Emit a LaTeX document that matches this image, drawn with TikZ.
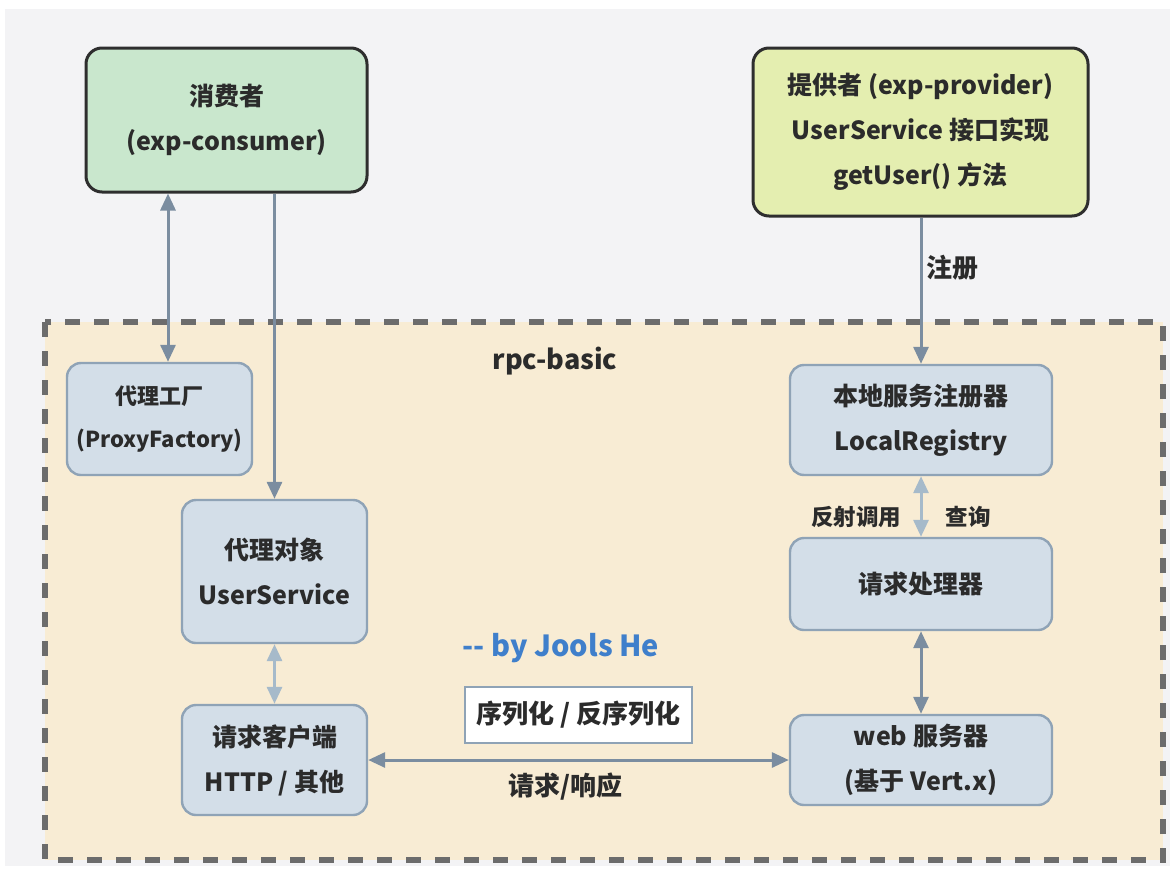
\documentclass[tikz,border=0pt]{standalone}
\usepackage{fontspec}
\setmainfont{Noto Sans CJK SC}
\usetikzlibrary{arrows.meta}
\definecolor{bggray}{HTML}{F3F3F5}
\definecolor{contfill}{HTML}{F8ECD4}
\definecolor{dashcol}{HTML}{6C6C6C}
\definecolor{boxfill}{HTML}{D3DEE8}
\definecolor{boxline}{HTML}{8FA3B6}
\definecolor{greenfill}{HTML}{C9E7CD}
\definecolor{yellowfill}{HTML}{E4EEB0}
\definecolor{topline}{HTML}{2E2E2E}
\definecolor{txt}{HTML}{2B2B2B}
\definecolor{arrdark}{HTML}{7B8DA0}
\definecolor{arrlight}{HTML}{A6BACA}
\definecolor{bluetxt}{HTML}{3F7FCB}
\tikzset{
  cbox/.style={draw=boxline, line width=2.4pt, fill=boxfill, rounded corners=14pt,
    inner sep=0pt, align=center, text=txt, font=\bfseries\fontsize{25}{45}\selectfont},
  topbox/.style={cbox, draw=topline, line width=3pt, rounded corners=16pt},
  tip/.tip={Triangle[length=17pt,width=15pt]},
  darrow/.style={draw=arrdark, line width=3pt, -{tip}},
  dbl/.style={draw=arrdark, line width=3pt, {tip}-{tip}},
  dbllight/.style={draw=arrlight, line width=3pt, {tip}-{tip}},
  lbl/.style={inner sep=0pt, text=txt, font=\bfseries\fontsize{22.5}{26}\selectfont}
}
\begin{document}
\begin{tikzpicture}[x=1pt,y=-1pt]
\useasboundingbox (0,0) rectangle (1174,878);
\fill[white] (0,0) rectangle (1174,878);
\fill[bggray] (5,9) rectangle (1170,866);
% container
\fill[contfill] (45,322) rectangle (1163,860);
\draw[dashcol, line width=6pt, dash pattern=on 15pt off 14pt] (45,322) rectangle (1163,860);
\node[lbl, font=\bfseries\fontsize{27}{30}\selectfont] (rpc) at (555,361) {rpc-basic};
\node[inner sep=0pt, text=bluetxt, font=\bfseries\fontsize{29}{32}\selectfont] (by) at (561,648) {-{}- by Jools He};

% top boxes
\node[topbox, fill=greenfill, minimum width=281pt, minimum height=144pt] (consumer) at (226.5,120) {消费者\\(exp-consumer)};
\node[topbox, fill=yellowfill, minimum width=335pt, minimum height=168pt] (provider) at (920.5,132) {提供者 (exp-provider)\\UserService 接口实现\\getUser() 方法};

% inner boxes
\node[cbox, minimum width=185pt, minimum height=112pt, font=\bfseries\fontsize{22}{43}\selectfont] (factory) at (159.5,419) {代理工厂\\(ProxyFactory)};
\node[cbox, minimum width=185pt, minimum height=143pt] (proxy) at (274.5,571.5) {代理对象\\UserService};
\node[cbox, minimum width=185pt, minimum height=110pt] (client) at (274.5,760) {请求客户端\\HTTP / 其他};
\node[cbox, minimum width=262pt, minimum height=110pt] (registry) at (921,420) {本地服务注册器\\LocalRegistry};
\node[cbox, minimum width=262pt, minimum height=92pt] (handler) at (921,584) {请求处理器};
\node[cbox, minimum width=262pt, minimum height=90pt] (web) at (921,760) {web 服务器\\(基于 Vert.x)};
\node[draw=boxline, line width=2pt, fill=white, inner sep=0pt, minimum width=227pt, minimum height=56pt, text=txt, font=\bfseries\fontsize{26}{28}\selectfont] (serial) at (578.5,715) {序列化 / 反序列化};

% connectors
\coordinate (fx) at (168,0);
\draw[dbl] (consumer.south -| fx) -- (factory.north -| fx);
\draw[darrow] (consumer.south -| proxy.north) -- (proxy.north);
\draw[darrow] (provider.south -| registry.north) -- (registry.north);
\draw[dbllight] (registry.south) -- (handler.north);
\draw[dbl] (handler.south) -- (web.north);
\draw[dbllight] (proxy.south) -- (client.north);
\draw[dbl] (client.east) -- (web.west);

% labels
\node[lbl, font=\bfseries\fontsize{26}{28}\selectfont] (reg) at (952,268) {注册};
\node[lbl] (refl) at (856,517) {反射调用};
\node[lbl] (query) at (968,517) {查询};
\node[lbl, font=\bfseries\fontsize{26}{28}\selectfont] (reqresp) at (565,787) {请求/响应};
\end{tikzpicture}
\end{document}
